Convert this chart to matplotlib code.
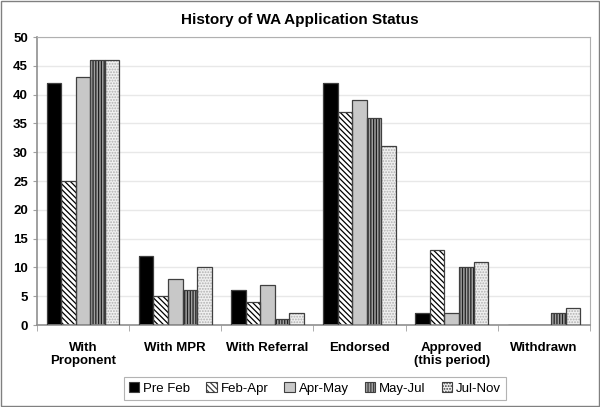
import numpy as np
import matplotlib
matplotlib.use('Agg')
import matplotlib.pyplot as plt
from matplotlib.patches import Rectangle

plt.rcParams['font.family'] = ['Liberation Sans', 'DejaVu Sans']
plt.rcParams['hatch.linewidth'] = 0.9

categories = ['With\nProponent', 'With MPR', 'With Referral', 'Endorsed',
              'Approved\n(this period)', 'Withdrawn']
series = ['Pre Feb', 'Feb-Apr', 'Apr-May', 'May-Jul', 'Jul-Nov']
pre_feb = [42, 12, 6, 42, 2, 0]
feb_apr = [25, 5, 4, 37, 13, 0]
apr_may = [43, 8, 7, 39, 2, 0]
may_jul = [46, 6, 1, 36, 10, 2]
jul_nov = [46, 10, 2, 31, 11, 3]
values = [pre_feb, feb_apr, apr_may, may_jul, jul_nov]

# fill, hatch, hatch colour
styles = [('black', '', 'black'),
          ('white', '\\\\\\\\\\\\', 'black'),
          ('#c8c8c8', '', '#c8c8c8'),
          ('#a0a0a0', '||||||', '#202020'),
          ('#f0f0f0', '......', '#b0b0b0')]

fig = plt.figure(figsize=(6, 4.07), dpi=100)
ax = fig.add_axes([37 / 600, 1 - 325 / 407, 553 / 600, 288 / 407])

x = np.arange(len(categories))
w = 0.158
for i, (vals, (fc, hatch, hc)) in enumerate(zip(values, styles)):
    pos = x + (i - 2) * w
    ax.bar(pos, vals, w, color=fc, hatch=hatch, edgecolor=hc, lw=0, zorder=2)
    ax.bar(pos, vals, w, fill=False, edgecolor='#404040', lw=0.9, zorder=3)

ax.set_xlim(-0.5, len(categories) - 0.5)
ax.set_ylim(0, 50)
ax.set_yticks(range(0, 51, 5))
ax.set_xticks(np.arange(len(categories) + 1) - 0.5, minor=True)
ax.set_xticks(x)
ax.set_xticklabels(categories, fontweight='bold', fontsize=9.5)
ax.tick_params(axis='x', which='major', length=0, pad=12)
ax.tick_params(axis='x', which='minor', length=4, color='#a0a0a0')
ax.tick_params(axis='y', labelsize=9.5, length=3, color='#a0a0a0')
for lab in ax.get_yticklabels():
    lab.set_fontweight('bold')
ax.yaxis.grid(True, color='#e8e8e8', lw=1, zorder=0)
ax.set_axisbelow(True)
for s in ['top', 'right']:
    ax.spines[s].set_color('#b0b0b0')
for s in ['left', 'bottom']:
    ax.spines[s].set_color('#909090')
    ax.spines[s].set_linewidth(1.2)

fig.suptitle('History of WA Application Status', y=0.968, fontsize=11,
             fontweight='bold')

handles = [Rectangle((0, 0), 1, 1, facecolor=fc, hatch=h, edgecolor='#404040',
                     lw=0.8) for fc, h, hc in styles]
leg = fig.legend(handles, series, loc='center', bbox_to_anchor=(0.525, 0.045),
                 ncol=5, fontsize=9.5, frameon=True, fancybox=False,
                 handlelength=0.8, handleheight=0.8, handletextpad=0.3,
                 columnspacing=1.2, borderpad=0.4)
leg.get_frame().set_edgecolor('#a0a0a0')
leg.get_frame().set_linewidth(0.8)

fig.patches.append(Rectangle((0.002, 0.003), 0.996, 0.994, transform=fig.transFigure,
                             fill=False, edgecolor='#808080', lw=1))

fig.savefig('out.png', dpi=100)
